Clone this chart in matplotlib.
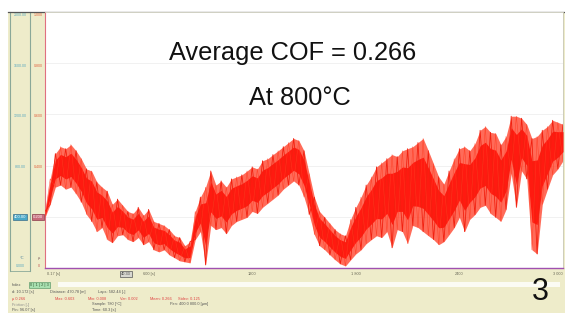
import numpy as np
import matplotlib
matplotlib.use('Agg')
import matplotlib.pyplot as plt
from matplotlib.patches import Rectangle
from matplotlib.lines import Line2D

plt.rcParams['font.family'] = ['Liberation Sans', 'DejaVu Sans']

# friction trace, one sample every 30 s: spike top / spike bottom of the band
time_s = np.arange(0, 3001, 30)
cof_high = [0.221, 0.348, 0.447, 0.474, 0.466, 0.482, 0.458, 0.427, 0.387, 0.379,
            0.336, 0.316, 0.300, 0.249, 0.269, 0.245, 0.221, 0.213, 0.237, 0.206,
            0.229, 0.182, 0.174, 0.166, 0.150, 0.126, 0.119, 0.087, 0.103, 0.221,
            0.277, 0.316, 0.379, 0.324, 0.340, 0.316, 0.348, 0.356, 0.364, 0.379,
            0.395, 0.387, 0.419, 0.427, 0.443, 0.458, 0.474, 0.490, 0.506, 0.498,
            0.458, 0.368, 0.277, 0.221, 0.198, 0.174, 0.150, 0.134, 0.126, 0.190,
            0.237, 0.277, 0.324, 0.356, 0.395, 0.411, 0.427, 0.443, 0.435, 0.458,
            0.466, 0.474, 0.490, 0.506, 0.458, 0.407, 0.356, 0.328, 0.379, 0.427,
            0.466, 0.474, 0.458, 0.486, 0.538, 0.553, 0.530, 0.526, 0.482, 0.514,
            0.593, 0.593, 0.585, 0.561, 0.506, 0.514, 0.538, 0.553, 0.577, 0.569,
            0.561]
cof_low = [0.198, 0.249, 0.316, 0.324, 0.308, 0.316, 0.289, 0.257, 0.209, 0.182,
           0.142, 0.158, 0.111, 0.099, 0.126, 0.130, 0.111, 0.103, 0.119, 0.091,
           0.103, 0.071, 0.063, 0.071, 0.051, 0.040, 0.028, 0.024, 0.020, 0.111,
           0.142, 0.012, 0.166, 0.150, 0.158, 0.134, 0.166, 0.182, 0.190, 0.198,
           0.221, 0.213, 0.237, 0.253, 0.269, 0.285, 0.308, 0.324, 0.340, 0.324,
           0.277, 0.209, 0.130, 0.087, 0.071, 0.051, 0.032, 0.016, 0.008, 0.032,
           0.055, 0.071, 0.095, 0.111, 0.126, 0.119, 0.142, 0.079, 0.150, 0.142,
           0.095, 0.166, 0.158, 0.142, 0.126, 0.111, 0.091, 0.103, 0.130, 0.158,
           0.198, 0.142, 0.190, 0.209, 0.237, 0.245, 0.213, 0.198, 0.182, 0.229,
           0.368, 0.237, 0.379, 0.348, 0.071, 0.055, 0.249, 0.308, 0.364, 0.387,
           0.419]

cof_ticks = [0, 0.2, 0.4, 0.6, 0.8, 1.0]
cof_tick_labels = ['0', '0.200', '0.400', '0.600', '0.800', '1.000']
temp_tick_labels = ['0.000', '400.00', '800.00', '1200.00', '1600.00', '2000.00']
time_ticks = [0, 600, 1200, 1800, 2400, 3000]
time_tick_labels = ['0.17 [s]', '600 [s]', '1200', '1 800', '2400', '3 000']

W, H = 565, 313
def fx(x):
    return x / W
def fy(y):
    return 1 - y / H

fig = plt.figure(figsize=(5.65, 3.13), dpi=100, facecolor='white')

beige = '#eeecca'
fig.add_artist(Rectangle((fx(8), 0), 1 - fx(8), fy(12), transform=fig.transFigure,
                         facecolor=beige, edgecolor='none', zorder=-10))
# white stripe in the footer
fig.add_artist(Rectangle((fx(58), fy(287)), fx(560) - fx(58), fy(282) - fy(287),
                         transform=fig.transFigure, facecolor='#fbfbf4', edgecolor='none', zorder=-9))

left, bottom, right, top = 45, 268, 563, 12
ax = fig.add_axes([fx(left), fy(bottom), fx(right) - fx(left), fy(top) - fy(bottom)])
ax.set_zorder(2)
ax.set_facecolor('white')
ax.set_xlim(0, 3000)
ax.set_ylim(0, 1.0)
ax.set_xticks([])
ax.set_yticks([])
for y in cof_ticks[1:-1]:
    ax.axhline(y, color='#ececec', lw=0.5, zorder=0)
for s in ['top', 'right']:
    ax.spines[s].set_color('#c8c8b8')
    ax.spines[s].set_linewidth(0.6)
ax.spines['left'].set_color('#e07080')
ax.spines['left'].set_linewidth(0.8)
ax.spines['bottom'].set_color('#a050b0')
ax.spines['bottom'].set_linewidth(1.0)

# friction band: light fringe, solid core, spikes on top
hi = np.array(cof_high)
lo = np.array(cof_low)
span = hi - lo
ax.fill_between(time_s, lo, hi, color='#ff3a22', alpha=0.75, lw=0, zorder=2)
ax.fill_between(time_s, lo + 0.25 * span, hi - 0.2 * span, color='#ff1a10', lw=0, zorder=3)
zig = np.where(np.arange(len(time_s)) % 2 == 0, hi, lo)
ax.plot(time_s, zig, color='#f2200f', lw=0.6, zorder=4)
zig2 = np.where(np.arange(len(time_s)) % 2 == 1, hi, lo)
ax.plot(time_s, zig2, color='#ff3a20', lw=0.4, alpha=0.8, zorder=4)

ax.text(0.479, 0.841, 'Average COF = 0.266', transform=ax.transAxes, fontsize=18.3,
        ha='center', va='center', color='#111111')
ax.text(0.492, 0.664, 'At 800\u00b0C', transform=ax.transAxes, fontsize=18.3,
        ha='center', va='center', color='#111111')

# left axis strips
line_col = '#8aa898'
fig.add_artist(Line2D([fx(10), fx(10)], [fy(12), fy(271)], color=line_col, lw=0.8))
fig.add_artist(Line2D([fx(30), fx(30)], [fy(12), fy(271)], color=line_col, lw=0.8))
fig.add_artist(Line2D([fx(10), fx(30)], [fy(271), fy(271)], color=line_col, lw=0.6))
fig.add_artist(Line2D([fx(8), 1], [fy(12), fy(12)], color='#555555', lw=0.9))

ypix = [268, 217, 167, 116, 66, 15]
for yp, lab_c, lab_t in zip(ypix, cof_tick_labels, temp_tick_labels):
    if yp == 217:
        fig.text(fx(20), fy(yp), lab_t, fontsize=3, ha='center', va='center', color='white',
                 bbox=dict(boxstyle='square,pad=0.3', fc='#4aa8c8', ec='#3b6e8a', lw=0.5))
        fig.text(fx(38), fy(yp), lab_c, fontsize=3, ha='center', va='center', color='white',
                 bbox=dict(boxstyle='square,pad=0.3', fc='#c86a7a', ec='#8a3b4a', lw=0.5))
    elif yp == 268:
        fig.text(fx(20), fy(266), lab_t, fontsize=2.6, ha='center', va='center', color='#5aa8c0')
        fig.text(fx(39), fy(266), lab_c, fontsize=2.6, ha='center', va='center', color='#c05050')
    else:
        fig.text(fx(20), fy(yp), lab_t, fontsize=2.6, ha='center', va='center', color='#5aa8c0')
        fig.text(fx(38), fy(yp), lab_c, fontsize=2.6, ha='center', va='center', color='#e06040')
fig.text(fx(22), fy(258), '\u00b0C', fontsize=3, ha='center', va='center', color='#5a8aa0')
fig.text(fx(39), fy(258), '\u00b5', fontsize=3, ha='center', va='center', color='#806060')

# time axis labels
for t, lab in zip(time_ticks, time_tick_labels):
    xp = left + t / 3000 * (right - left)
    ha = 'left' if t == 0 else ('right' if t == 3000 else 'center')
    fig.text(fx(xp + (2 if t == 0 else 0)), fy(274), lab, fontsize=2.8, ha=ha, va='center',
             color='#666655')
fig.text(fx(126), fy(274), '40.33', fontsize=2.8, ha='center', va='center', color='#444444',
         bbox=dict(boxstyle='square,pad=0.3', fc='#d8d8d0', ec='#555555', lw=0.5))

# footer
fig.text(fx(12), fy(285), 'Index', fontsize=2.8, ha='left', va='center', color='#555555')
fig.text(fx(30), fy(285), '0 | 1 | 2 | 3', fontsize=2.8, ha='left', va='center', color='#335533',
         bbox=dict(boxstyle='square,pad=0.2', fc='#a8e0b0', ec='#4a8a5a', lw=0.4))
fig.text(fx(12), fy(292), 'd: 10.172 [s]', fontsize=2.8, ha='left', va='center', color='#555555')
fig.text(fx(50), fy(292), 'Distance: 470.78 [m]', fontsize=2.8, ha='left', va='center', color='#555555')
fig.text(fx(98), fy(292), 'Laps: 582.44 [-]', fontsize=2.8, ha='left', va='center', color='#555555')
for xp, lab in zip([12, 55, 88, 120, 150, 178],
                   ['\u00b5 0.266', 'Max: 0.603', 'Min: 0.008', 'Var: 0.002', 'Mean: 0.266', 'Stdev: 0.125']):
    fig.text(fx(xp), fy(299), lab, fontsize=2.8, ha='left', va='center', color='#e04040')
fig.text(fx(12), fy(305), 'Friction [-]', fontsize=2.8, ha='left', va='center', color='#888888')
fig.text(fx(92), fy(304), 'Sample: 780 [\u00b0C]', fontsize=2.8, ha='left', va='center', color='#555555')
fig.text(fx(170), fy(304), 'Pen: 400.0 800.0 [\u00b5m]', fontsize=2.8, ha='left', va='center', color='#555555')
fig.text(fx(12), fy(310), 'Pin: 96.07 [s]', fontsize=2.8, ha='left', va='center', color='#555555')
fig.text(fx(92), fy(310), 'Time: 60.3 [s]', fontsize=2.8, ha='left', va='center', color='#555555')

fig.text(fx(540), fy(292), '3', fontsize=22, ha='center', va='center', color='#111111')

fig.savefig('out.png', dpi=100, facecolor=fig.get_facecolor())
